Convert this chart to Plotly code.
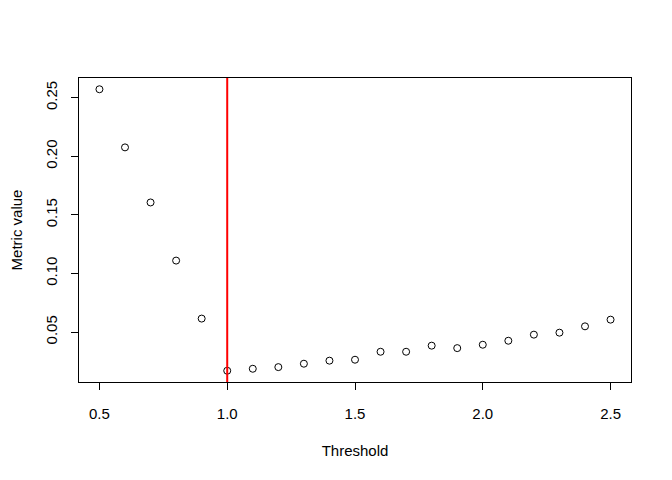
import plotly.graph_objects as go

threshold = [0.5, 0.6, 0.7, 0.8, 0.9, 1.0, 1.1, 1.2, 1.3, 1.4, 1.5, 1.6, 1.7, 1.8, 1.9, 2.0, 2.1, 2.2, 2.3, 2.4, 2.5]
metric = [0.2572, 0.2076, 0.1606, 0.1110, 0.0615, 0.0170, 0.0187, 0.0201, 0.0230, 0.0256, 0.0264,
          0.0332, 0.0332, 0.0384, 0.0363, 0.0392, 0.0426, 0.0478, 0.0495, 0.0549, 0.0606]
chosen = 1.0
x_ticks = [0.5, 1.0, 1.5, 2.0, 2.5]
y_ticks = [0.05, 0.10, 0.15, 0.20, 0.25]

xr = max(threshold) - min(threshold)
yr = max(metric) - min(metric)
x_range = [min(threshold) - 0.04 * xr, max(threshold) + 0.04 * xr]
y_range = [min(metric) - 0.04 * yr, max(metric) + 0.04 * yr]

fig = go.Figure()
fig.add_trace(go.Scatter(
    x=threshold, y=metric, mode="markers",
    marker=dict(symbol="circle-open", size=7, color="black", line=dict(width=1, color="black")),
    showlegend=False,
))
fig.add_shape(type="line", x0=chosen, x1=chosen, xref="x", yref="paper", y0=0, y1=1,
              line=dict(color="#ff0000", width=2))

font = dict(family="Liberation Sans, Arial, sans-serif", size=15, color="black")
fig.update_layout(
    width=672, height=480,
    margin=dict(l=71, r=49, t=70, b=106),
    plot_bgcolor="white", paper_bgcolor="white",
    font=font,
    xaxis=dict(range=x_range, tickvals=x_ticks, ticktext=[f"{v:.1f}" for v in x_ticks],
               ticks="outside", ticklen=7, tickcolor="black", showgrid=False, zeroline=False,
               showline=True, linecolor="black", linewidth=1, mirror=True, automargin=False,
               ticklabelstandoff=11,
               title=dict(text="Threshold", standoff=24, font=font)),
    yaxis=dict(range=y_range, tickvals=y_ticks, ticktext=[f"{v:.2f}" for v in y_ticks],
               ticks="outside", ticklen=7, tickcolor="black", showgrid=False, zeroline=False,
               showline=True, linecolor="black", linewidth=1, mirror=True, automargin=False,
               tickangle=-90, ticklabelstandoff=8,
               title=dict(text="Metric value", standoff=19, font=font)),
)
fig.write_html("out.html")
